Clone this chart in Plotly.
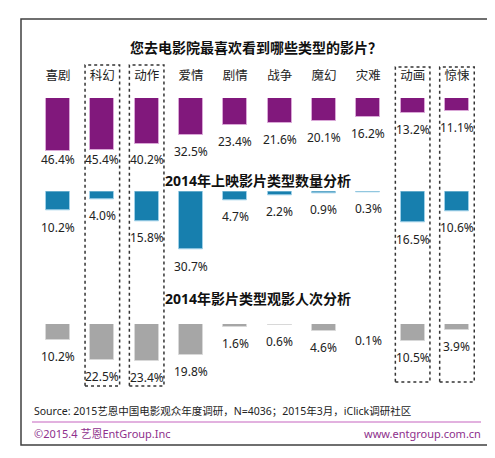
import plotly.graph_objects as go

# ---------------- data ----------------
categories = ["喜剧", "科幻", "动作", "爱情", "剧情", "战争", "魔幻", "灾难", "动画", "惊悚"]
preference = [46.4, 45.4, 40.2, 32.5, 23.4, 21.6, 20.1, 16.2, 13.2, 11.1]
release_count = [10.2, 4.0, 15.8, 30.7, 4.7, 2.2, 0.9, 0.3, 16.5, 10.6]
admissions = [10.2, 22.5, 23.4, 19.8, 1.6, 0.6, 4.6, 0.1, 10.5, 3.9]
highlighted = ["科幻", "动作", "动画", "惊悚"]

title = "您去电影院最喜欢看到哪些类型的影片？"
subtitle2 = "2014年上映影片类型数量分析"
subtitle3 = "2014年影片类型观影人次分析"
source = "Source: 2015艺恩中国电影观众年度调研，N=4036；2015年3月，iClick调研社区"
footer_left = "©2015.4 艺恩EntGroup.Inc"
footer_right = "www.entgroup.com.cn"

# ---------------- style ----------------
W, H = 495, 458
FONT = "Noto Sans, Noto Sans CJK SC, sans-serif"
PURPLE, PURPLE_EDGE = "#81187c", "#d9a6d6"
BLUE, BLUE_EDGE = "#177fae", "#9fd0e8"
GRAY, GRAY_EDGE = "#a6a6a6", "#d8d8d8"
TEXT = "#222222"
FOOT = "#8e2f8c"


def py(p):
    return 1 - p / H


def px(p):
    return p / W


x0_pix, step_pix = 50.0, 44.33
x_range = [-x0_pix / step_pix, (W - x0_pix) / step_pix]
xs = list(range(len(categories)))
bar_w = 24 / step_pix

rows = [
    # (values, yaxis id, top px, px per %, domain height px, color, edge, label cap)
    (preference, "y", 90, 1.145, 70, PURPLE, PURPLE_EDGE, 38.9),
    (release_count, "y2", 183.3, 1.9, 80, BLUE, BLUE_EDGE, None),
    (admissions, "y3", 316, 1.58, 60, GRAY, GRAY_EDGE, None),
]

fig = go.Figure()
annotations = []
layout_axes = {}
for k, (vals, yid, top, scale, hgt, col, edge, cap) in enumerate(rows):
    fig.add_trace(go.Bar(
        x=xs, y=vals, xaxis="x", yaxis=yid, width=bar_w,
        marker=dict(color=col, line=dict(color=edge, width=1)),
        hoverinfo="skip", showlegend=False,
    ))
    name = "yaxis" if k == 0 else f"yaxis{k + 1}"
    layout_axes[name] = dict(
        domain=[py(top + hgt), py(top)], range=[hgt / scale, 0],
        visible=False, anchor="x", fixedrange=True,
    )
    for i, v in enumerate(vals):
        yv = min(v, cap) if cap is not None else v
        annotations.append(dict(
            x=i, y=yv, xref="x", yref=yid, yshift=-16.5, text=f"{v}%",
            showarrow=False, font=dict(family=FONT, size=12, color=TEXT),
            xanchor="center", yanchor="middle",
        ))

# titles
annotations.append(dict(x=px(248), y=py(40), xref="paper", yref="paper", text=f"<b>{title}</b>",
                        showarrow=False, font=dict(family=FONT, size=14, color="#111"),
                        xanchor="center", yanchor="middle"))
annotations.append(dict(x=px(249.5), y=py(172), xref="paper", yref="paper", text=f"<b>{subtitle2}</b>",
                        showarrow=False, font=dict(family=FONT, size=14, color="#111"),
                        xanchor="center", yanchor="middle"))
annotations.append(dict(x=px(249.5), y=py(290), xref="paper", yref="paper", text=f"<b>{subtitle3}</b>",
                        showarrow=False, font=dict(family=FONT, size=14, color="#111"),
                        xanchor="center", yanchor="middle"))
annotations.append(dict(x=px(24), y=py(403), xref="paper", yref="paper", text=source,
                        showarrow=False, font=dict(family=FONT, size=10.5, color=TEXT),
                        xanchor="left", yanchor="middle"))
annotations.append(dict(x=px(24), y=py(425), xref="paper", yref="paper", text=footer_left,
                        showarrow=False, font=dict(family=FONT, size=11, color=FOOT),
                        xanchor="left", yanchor="middle"))
annotations.append(dict(x=px(475), y=py(425), xref="paper", yref="paper", text=footer_right,
                        showarrow=False, font=dict(family=FONT, size=11, color=FOOT),
                        xanchor="right", yanchor="middle"))

shapes = [
    dict(type="rect", xref="paper", yref="paper", x0=px(13), x1=px(485), y0=py(437), y1=py(11),
         line=dict(color="#404040", width=1.5), layer="below"),
    dict(type="line", xref="paper", yref="paper", x0=px(24), x1=px(473), y0=py(414), y1=py(414),
         line=dict(color="#c565c0", width=1.2)),
]
for c in highlighted:
    i = categories.index(c)
    left_side = i < 5
    shapes.append(dict(
        type="rect", xref="x", yref="paper", x0=i - 0.39, x1=i + 0.39,
        y0=py(378 if left_side else 374), y1=py(57 if left_side else 59),
        line=dict(color="#333333", width=1.5, dash="dot"),
    ))

fig.update_layout(
    width=W, height=H, margin=dict(l=0, r=0, t=0, b=0),
    paper_bgcolor="white", plot_bgcolor="rgba(0,0,0,0)",
    xaxis=dict(range=x_range, domain=[0, 1], side="top", anchor="free", position=py(74),
               tickmode="array", tickvals=xs, ticktext=categories, ticks="",
               showline=False, showgrid=False, zeroline=False, fixedrange=True,
               tickfont=dict(family=FONT, size=12.5, color=TEXT)),
    annotations=annotations, shapes=shapes, bargap=0,
    **layout_axes,
)

fig.write_html("out.html")
